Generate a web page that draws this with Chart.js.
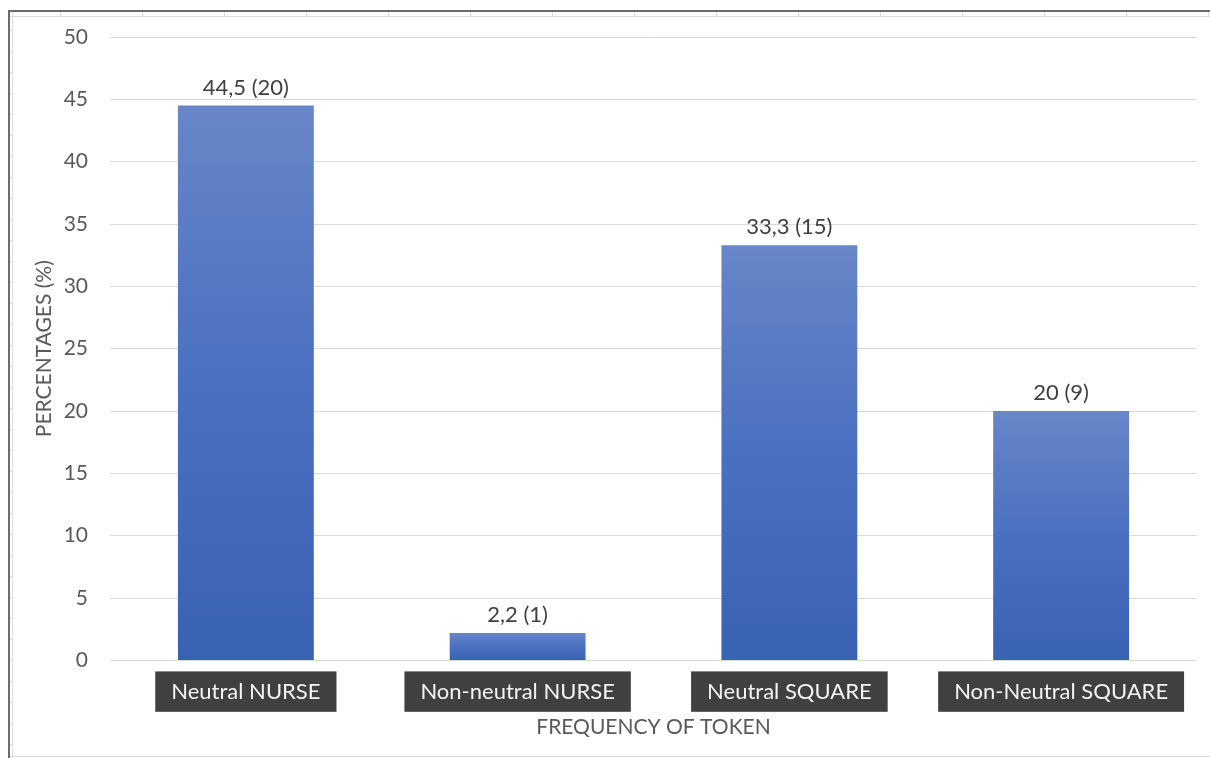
<!DOCTYPE html>
<html>
<head>
<meta charset="utf-8">
<script src="https://cdn.jsdelivr.net/npm/chart.js@4"></script>
<style>
  html, body { margin: 0; padding: 0; background: #fff; }
  #wrap { width: 1210px; height: 758px; position: relative; }
</style>
</head>
<body>
<div id="wrap"><canvas id="tokenChart"></canvas></div>
<script>
const categories = ['Neutral NURSE', 'Non-neutral NURSE', 'Neutral SQUARE', 'Non-Neutral SQUARE'];
const percentages = [44.5, 2.2, 33.3, 20];
const tokenCounts = [20, 1, 15, 9];
const barLabels = ['44,5 (20)', '2,2 (1)', '33,3 (15)', '20 (9)'];

// spreadsheet frame behind the chart
const sheetFrame = {
    id: 'sheetFrame',
    beforeDraw(chart) {
        let ctx = chart.ctx;
        ctx.save();
        ctx.strokeStyle = '#dcdcdc';
        ctx.lineWidth = 1;
        ctx.beginPath();
        ctx.moveTo(8, 16.5); ctx.lineTo(1210, 16.5);
        for (let x = 60; x < 1210; x += 82) {
            ctx.moveTo(x + 0.5, 12); ctx.lineTo(x + 0.5, 16);
        }
        for (let y = 30; y < 758; y += 21) {
            ctx.moveTo(9, y + 0.5); ctx.lineTo(12, y + 0.5);
        }
        ctx.moveTo(8, 756.5); ctx.lineTo(1210, 756.5);
        ctx.moveTo(12.5, 12); ctx.lineTo(12.5, 758);
        ctx.stroke();
        ctx.strokeStyle = '#6b6b6b';
        ctx.lineWidth = 2;
        ctx.beginPath();
        ctx.moveTo(8, 11); ctx.lineTo(1210, 11);
        ctx.moveTo(9, 10); ctx.lineTo(9, 758);
        ctx.stroke();
        ctx.restore();
    }
};

const valueLabels = {
    id: 'valueLabels',
    afterDatasetsDraw(chart) {
        let ctx = chart.ctx;
        let meta = chart.getDatasetMeta(0);
        ctx.save();
        ctx.font = '22px Lato';
        ctx.fillStyle = '#404040';
        ctx.textAlign = 'center';
        ctx.textBaseline = 'bottom';
        meta.data.forEach((bar, i) => {
            ctx.fillText(barLabels[i], bar.x, bar.y - 7);
        });
        ctx.restore();
    }
};

function barGradient(context) {
    let chart = context.chart;
    let y = chart.scales.y;
    if (!y || context.dataIndex === undefined) return '#4a6fbf';
    let top = y.getPixelForValue(percentages[context.dataIndex]);
    let bottom = y.getPixelForValue(0);
    if (!isFinite(top) || !isFinite(bottom) || top === bottom) return '#4a6fbf';
    let g = chart.ctx.createLinearGradient(0, top, 0, bottom);
    g.addColorStop(0, '#6886c8');
    g.addColorStop(0.5, '#4a70c0');
    g.addColorStop(1, '#3a62b3');
    return g;
}

let ctx = document.getElementById('tokenChart').getContext('2d');
window.tokenChart = new Chart(ctx, {
    type: 'bar',
    data: {
        labels: categories,
        datasets: [{
            data: percentages,
            backgroundColor: barGradient,
            borderWidth: 0,
            categoryPercentage: 1,
            barPercentage: 0.5
        }]
    },
    options: {
        responsive: true,
        maintainAspectRatio: false,
        animation: false,
        layout: { padding: { top: 37, right: 13, bottom: 18, left: 32 } },
        plugins: {
            legend: { display: false },
            tooltip: { enabled: false }
        },
        scales: {
            x: {
                grid: { display: false },
                border: { display: false },
                ticks: {
                    color: '#f4f4f4',
                    font: { family: 'Lato', size: 22 },
                    padding: 10,
                    showLabelBackdrop: true,
                    backdropColor: '#404040',
                    backdropPadding: { top: 7, bottom: 7, left: 16, right: 16 },
                    maxRotation: 0
                },
                title: {
                    display: true,
                    text: 'FREQUENCY OF TOKEN',
                    color: '#595959',
                    font: { family: 'Lato', size: 21 },
                    padding: { top: 0, bottom: 0 }
                }
            },
            y: {
                min: 0,
                max: 50,
                grid: { color: '#d9d9d9', lineWidth: 1, drawTicks: false },
                border: { display: false },
                ticks: {
                    stepSize: 5,
                    color: '#595959',
                    font: { family: 'Lato', size: 21 },
                    padding: 22
                },
                title: {
                    display: true,
                    text: 'PERCENTAGES (%)',
                    color: '#595959',
                    font: { family: 'Lato', size: 21 },
                    padding: { top: 0, bottom: 0 }
                },
                afterFit(scale) { scale.width = 78; }
            }
        }
    },
    plugins: [sheetFrame, valueLabels]
});
</script>
</body>
</html>
